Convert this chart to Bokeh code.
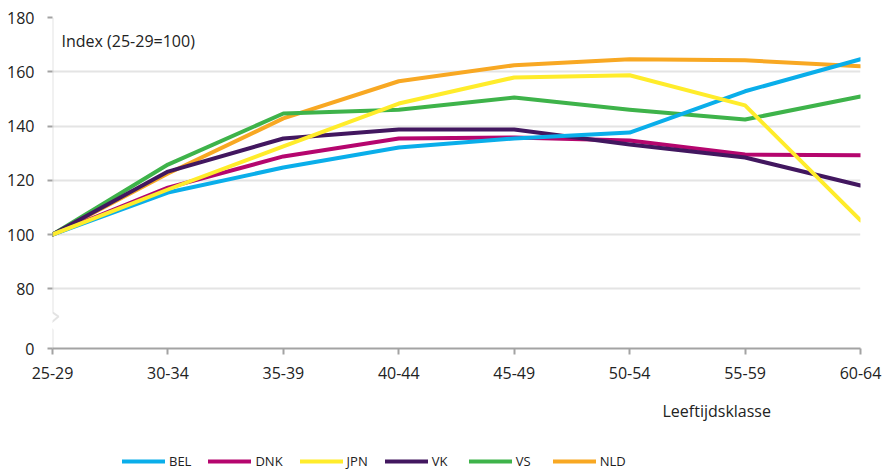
from bokeh.plotting import figure
from bokeh.layouts import column
from bokeh.models import (Legend, LegendItem, FixedTicker, CustomJSTickFormatter,
                          Label, PolyAnnotation, Range1d, Title)
from bokeh.embed import file_html
from bokeh.resources import INLINE

# ---- data ----
categories = ["25-29", "30-34", "35-39", "40-44", "45-49", "50-54", "55-59", "60-64"]
bel = [100, 115.5, 124.7, 132.1, 135.4, 137.6, 152.8, 164.6]
dnk = [100, 117.3, 128.8, 135.4, 135.8, 134.7, 129.5, 129.2]
jpn = [100, 116.6, 132.5, 148.3, 157.9, 158.7, 147.6, 105.2]
vk = [100, 123.2, 135.4, 138.7, 138.7, 133.2, 128.4, 118.1]
vs = [100, 125.8, 144.6, 146.0, 150.5, 146.0, 142.4, 150.9]
nld = [100, 122.5, 142.8, 156.5, 162.4, 164.6, 164.2, 162.0]
y_tick_labels = [0, 80, 100, 120, 140, 160, 180]

series_names = ["BEL", "DNK", "JPN", "VK", "VS", "NLD"]
series_values = [bel, dnk, jpn, vk, vs, nld]
colors = ["#0AAEEA", "#B5066E", "#FFEC2B", "#42175F", "#3EB34A", "#F8A823"]
draw_order = ["NLD", "VS", "DNK", "VK", "BEL", "JPN"]

# ---- layout constants ----
FONT = "Open Sans"
TXT = "#222222"
AXIS = "#a3a3a3"
GRID = "#e4e4e4"
BREAK_POS = 58  # where the "0" tick sits after the axis break

xs = list(range(len(categories)))
tick_pos = [BREAK_POS if t == 0 else t for t in y_tick_labels]

p = figure(width=882, height=438, output_backend="svg", toolbar_location=None,
           x_range=Range1d(0, len(categories) - 1), y_range=Range1d(BREAK_POS, 180),
           min_border_left=52, min_border_right=22, min_border_top=17, min_border_bottom=90)
p.outline_line_color = None
p.background_fill_color = "white"

for name in draw_order:
    i = series_names.index(name)
    p.line(xs, series_values[i], line_color=colors[i], line_width=4,
           line_join="round", line_cap="round")

# x axis
p.xaxis.ticker = FixedTicker(ticks=xs)
p.xaxis.major_label_overrides = {i: c for i, c in enumerate(categories)}
p.xaxis.axis_line_color = AXIS
p.xaxis.axis_line_width = 2
p.xaxis.major_tick_line_color = AXIS
p.xaxis.major_tick_line_width = 2
p.xaxis.major_tick_out = 6
p.xaxis.major_tick_in = 0
p.xaxis.minor_tick_line_color = None
p.xaxis.major_label_standoff = 12
p.xaxis.major_label_text_font = FONT
p.xaxis.major_label_text_font_size = "16px"
p.xaxis.major_label_text_color = TXT
p.xgrid.grid_line_color = None

# y axis
p.yaxis.ticker = FixedTicker(ticks=tick_pos)
p.yaxis.formatter = CustomJSTickFormatter(
    args=dict(bp=BREAK_POS),
    code="return (Math.abs(tick - bp) < 1e-6) ? '0' : tick.toFixed(0);")
p.yaxis.axis_line_color = None
p.yaxis.major_tick_line_color = AXIS
p.yaxis.major_tick_line_width = 2
p.yaxis.major_tick_out = 5
p.yaxis.major_tick_in = 0
p.yaxis.minor_tick_line_color = None
p.yaxis.major_label_standoff = 13
p.yaxis.major_label_text_font = FONT
p.yaxis.major_label_text_font_size = "16px"
p.yaxis.major_label_text_color = TXT
p.ygrid.ticker = FixedTicker(ticks=tick_pos)
p.ygrid.grid_line_color = GRID
p.ygrid.grid_line_width = 2

# y axis line with break (zigzag)
path_x = [0, 0, 0.052, -0.039, 0, 0]
path_y = [180, 71.3, 69.8, 66.5, 64.8, BREAK_POS]
p.add_layout(PolyAnnotation(xs=path_x + path_x[-2:0:-1], ys=path_y + path_y[-2:0:-1],
                            fill_color=None, fill_alpha=0, line_color=AXIS, line_width=2))

# texts
p.add_layout(Label(x=0.078, y=171.2, text="Index (25-29=100)", text_font=FONT,
                   text_font_size="16px", text_color=TXT, text_baseline="middle",
                   text_align="left"))
p.add_layout(Title(text="Leeftijdsklasse", align="left", offset=610, text_font=FONT,
                   text_font_size="16px", text_font_style="normal", text_color=TXT,
                   standoff=32), "below")

# legend in its own strip below the chart (proxy lines lie outside the strip's range)
lg = figure(width=882, height=35, output_backend="svg", toolbar_location=None,
            x_range=Range1d(0, 1), y_range=Range1d(0, 1),
            min_border=0, x_axis_type=None, y_axis_type=None)
lg.outline_line_color = None
lg.xgrid.grid_line_color = None
lg.ygrid.grid_line_color = None
items = []
for name, c in zip(series_names, colors):
    r = lg.line([-5, -4], [-5, -5], line_color=c, line_width=4, line_cap="round")
    items.append(LegendItem(label=name, renderers=[r]))
legend = Legend(items=items, orientation="horizontal", location=(70, 2),
                label_text_font=FONT, label_text_font_size="13px", label_text_color=TXT,
                glyph_width=43, glyph_height=20, label_standoff=4, spacing=17,
                padding=0, margin=0, border_line_color=None, background_fill_alpha=0,
                label_height=20)
lg.add_layout(legend)

layout = column(p, lg, spacing=0)
open("out.html", "w").write(file_html(layout, INLINE))
